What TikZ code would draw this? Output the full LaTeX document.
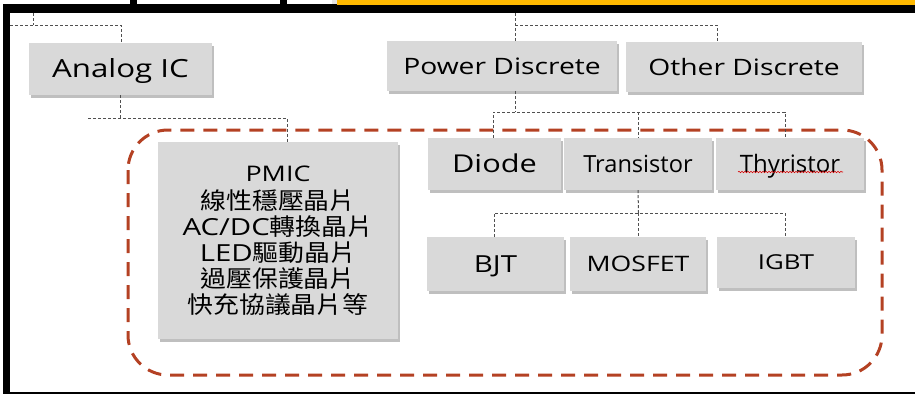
\documentclass[tikz,border=0pt]{standalone}
\usepackage{fontspec}
\setmainfont{Open Sans}
\newfontfamily\wide{Open Sans}[FakeStretch=1.25]
\newfontfamily\cjk{Noto Sans CJK TC}[FakeStretch=1.1]
\usetikzlibrary{shadows,decorations.pathmorphing}
\definecolor{boxgray}{HTML}{D9D9D9}
\definecolor{conngray}{HTML}{505050}
\definecolor{redash}{RGB}{180,65,35}
\definecolor{topor}{HTML}{FFB900}
\begin{document}
\begin{tikzpicture}[x=1pt,y=-1pt,
  box/.style={fill=boxgray, inner sep=0pt,
    drop shadow={shadow xshift=1.5pt, shadow yshift=-2.5pt, opacity=0.25, fill=black}},
  wlab/.style={font=\wide\fontsize{#1}{#1}\selectfont, text height=0.714*#1pt, text depth=0pt},
  nlab/.style={font=\fontsize{#1}{#1}\selectfont, text height=0.714*#1pt, text depth=0pt},
  conn/.style={draw=conngray, line width=1pt, dash pattern=on 3pt off 2pt},
  group/.style={draw=redash, line width=3pt, dash pattern=on 14pt off 9pt, rounded corners=40pt},
  frame/.style={fill=black}]
\useasboundingbox (0,0) rectangle (915,394);
% frame and top strip
\fill[frame] (3,4) rectangle (10,394);
\fill[frame] (3,4) rectangle (915,13);
\fill[frame] (3,391.5) rectangle (915,394);
\fill[frame] (130,0) rectangle (136.5,13);
\fill[frame] (280,0) rectangle (287,13);
\fill[gray!20] (332,0) rectangle (337,4);
\fill[topor] (337,0) rectangle (915,4.5);
% red dashed group
\draw[group] (128,130) rectangle (882,375);
% boxes
\node[box, wlab=25, minimum width=183pt, minimum height=52pt] (analog) at (120.5,69) {Analog IC};
\node[box, wlab=22.6, minimum width=230pt, minimum height=50pt] (power) at (502,66) {Power Discrete};
\node[box, wlab=22.6, minimum width=236pt, minimum height=50pt] (other) at (744,67) {Other Discrete};
\node[box, wlab=24.6, minimum width=133pt, minimum height=52pt] (diode) at (494.5,164) {Diode};
\node[box, nlab=23.6, minimum width=148pt, minimum height=52pt] (trans) at (638,164) {Transistor};
\node[box, nlab=24, minimum width=148pt, minimum height=52pt] (thyr) at (790,164) {Thyristor};
\node[box, wlab=23.5, minimum width=137pt, minimum height=54pt] (bjt) at (495.5,264) {BJT};
\node[box, wlab=21.3, minimum width=136pt, minimum height=54pt] (mosfet) at (638,264) {MOSFET};
\node[box, wlab=20.6, minimum width=138pt, minimum height=51pt] (igbt) at (786,262.5) {IGBT};
\node[box, minimum width=240pt, minimum height=197pt, align=center,
      font=\cjk\fontsize{23.5}{26}\selectfont] (pmic) at (278,240.5)
  {{\wide\fontsize{21.5}{26}\selectfont PMIC}\\[2pt]
   線性穩壓晶片\\
   {\wide AC/DC}轉換晶片\\
   {\wide LED}驅動晶片\\
   過壓保護晶片\\
   快充協議晶片等};
% spell-check mark
\draw[red!85!black, line width=0.6pt, decorate,
      decoration={snake, segment length=3pt, amplitude=0.7pt}]
  ([xshift=-52pt,yshift=-8pt]thyr.center) -- ([xshift=53pt,yshift=-8pt]thyr.center);
% connectors
\coordinate (ta) at (33,13);
\coordinate (tl) at (10,25);
\coordinate (ja) at (121,25);
\draw[conn] (ta) -- (ta |- tl);
\draw[conn] (tl) -- (ja) -- (ja |- analog.north);
\coordinate (jbl) at (88,118);
\coordinate (jbr) at (287,118);
\draw[conn] (analog.south) -- (analog.south |- jbl);
\draw[conn] (jbl) -- (jbr) -- (jbr |- pmic.north);
\coordinate (tp) at (515,13);
\coordinate (jp) at (515,25);
\coordinate (jo) at (717,25);
\draw[conn] (tp) -- (jp |- power.north);
\draw[conn] (jp) -- (jo) -- (jo |- other.north);
\coordinate (jd) at (493,112);
\coordinate (jt) at (638,112);
\coordinate (jy) at (785,112);
\draw[conn] (jp |- power.south) -- (jp |- jd);
\draw[conn] (jd |- diode.north) -- (jd) -- (jy) -- (jy |- thyr.north);
\draw[conn] (jt) -- (jt |- trans.north);
\coordinate (kb) at (494,213);
\coordinate (km) at (638.5,213);
\coordinate (ki) at (785,213);
\draw[conn] (trans.south) -- (km);
\draw[conn] (kb |- bjt.north) -- (kb) -- (ki) -- (ki |- igbt.north);
\draw[conn] (km) -- (km |- mosfet.north);
\end{tikzpicture}
\end{document}
